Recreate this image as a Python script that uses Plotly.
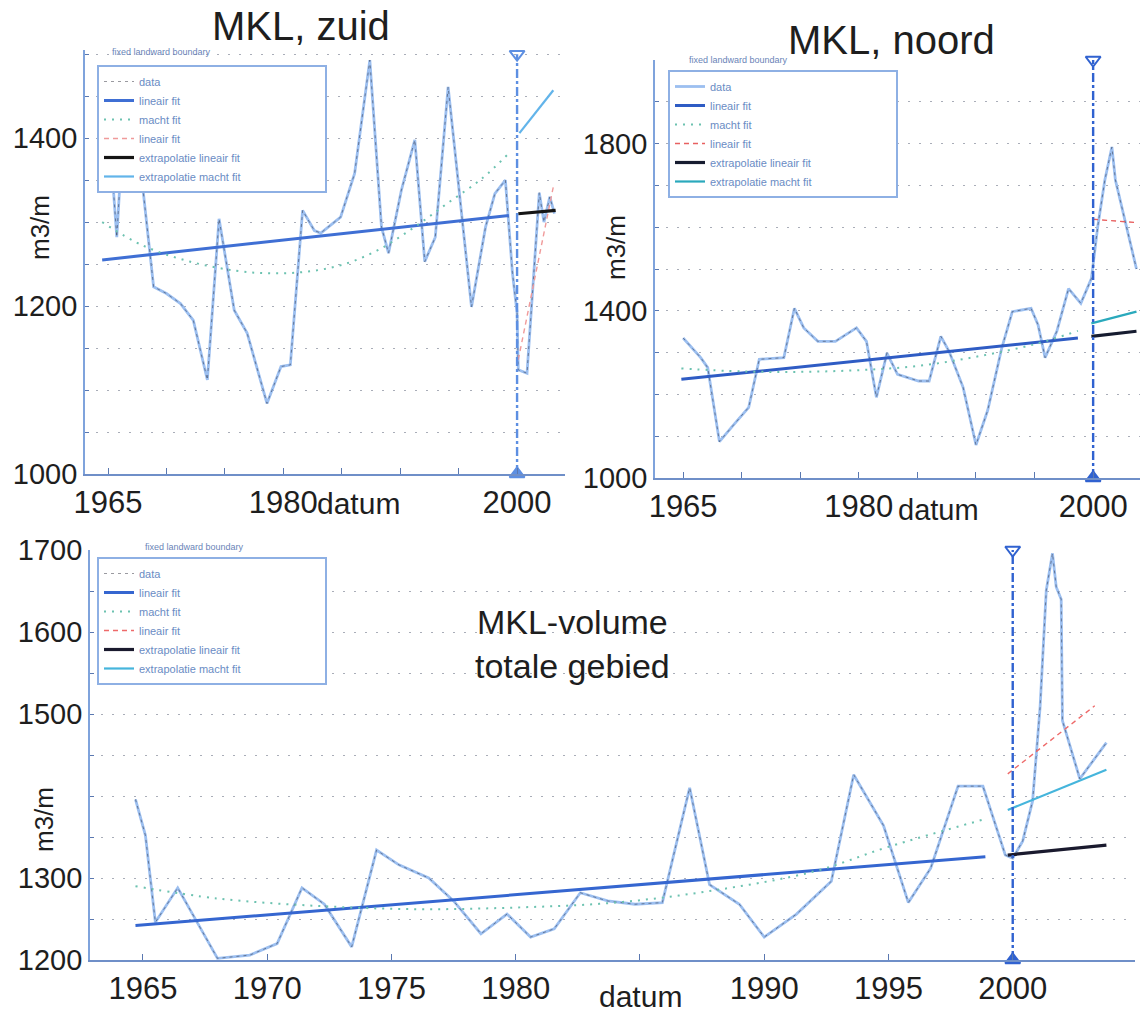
import plotly.graph_objects as go

W, H = 1140, 1014
BOUNDARY_YEAR = 2000

LEGEND_NAMES = ["data", "lineair fit", "macht fit", "lineair fit",
                "extrapolatie lineair fit", "extrapolatie macht fit"]
# keeps the legend box as wide as the drawn frame
LEGEND_PAD = "\u00a0" * 26

# ---------------- MKL, zuid ----------------
zuid_year = [1964.8, 1965.3, 1965.75, 1966.1, 1966.6, 1967.5, 1967.75, 1968.9, 1970.0,
             1971.2, 1972.3, 1973.5, 1974.5, 1975.8, 1976.9, 1978.6, 1979.8, 1980.6,
             1981.65, 1982.65, 1983.2, 1984.9, 1986.1, 1987.4, 1988.4, 1989.0, 1990.1,
             1991.25, 1992.1, 1993.0, 1994.1, 1995.0, 1996.1, 1997.3, 1998.1, 1999.0,
             1999.6, 2000.0, 2000.1, 2000.85, 2001.4, 2001.9, 2002.3, 2002.8, 2003.2]
zuid_val = [1395, 1370, 1282, 1366, 1410, 1400, 1370, 1223, 1215,
            1203, 1183, 1112, 1304, 1195, 1168, 1084, 1128, 1130,
            1314, 1290, 1287, 1306, 1358, 1493, 1294, 1263, 1338,
            1398, 1253, 1282, 1461, 1346, 1199, 1294, 1334, 1350,
            1240, 1192, 1124, 1120, 1231, 1335, 1300, 1330, 1310]
zuid_lin_year = [1964.5, 1999.3]
zuid_lin_val = [1255, 1308]
zuid_macht_year = [1964.5, 1968, 1972, 1976, 1979, 1982, 1985, 1988, 1991, 1994, 1997, 1999.3]
zuid_macht_val = [1300, 1272, 1253, 1242, 1239, 1241, 1249, 1266, 1292, 1322, 1352, 1382]
zuid_post_year = [2000.1, 2003.1]
zuid_post_val = [1136, 1342]
zuid_ext_lin_year = [2000.1, 2003.3]
zuid_ext_lin_val = [1310, 1314]
zuid_ext_macht_year = [2000.2, 2003.1]
zuid_ext_macht_val = [1406, 1457]
zuid_yticks = [1000, 1200, 1400]
zuid_xticks = [1965, 1980, 2000]

# ---------------- MKL, noord ----------------
noord_year = [1965.0, 1966.5, 1967.1, 1968.1, 1969.4, 1970.6, 1971.5, 1973.6, 1974.5,
              1975.3, 1976.5, 1978.0, 1979.8, 1980.65, 1981.5, 1982.4, 1983.3, 1985.1,
              1986.0, 1987.0, 1987.7, 1988.9, 1990.0, 1991.0, 1992.2, 1993.1, 1994.7,
              1995.3, 1995.9, 1996.9, 1997.9, 1998.95, 1999.85, 2000.4, 2001.0, 2001.6,
              2001.9, 2002.8, 2003.7]
noord_val = [1335, 1288, 1264, 1087, 1130, 1169, 1284, 1288, 1406,
             1359, 1327, 1327, 1359, 1327, 1193, 1299, 1248, 1232,
             1232, 1339, 1303, 1217, 1079, 1162, 1311, 1398, 1406,
             1366, 1288, 1351, 1453, 1418, 1477, 1603, 1713, 1792,
             1713, 1603, 1500]
noord_lin_year = [1964.85, 1998.7]
noord_lin_val = [1236, 1335]
noord_macht_year = [1964.85, 1970, 1975, 1980, 1985, 1990, 1995, 1998.7]
noord_macht_val = [1262, 1255, 1254, 1258, 1268, 1290, 1320, 1352]
noord_post_year = [2000.0, 2003.7]
noord_post_val = [1619, 1611]
noord_ext_lin_year = [1999.85, 2003.7]
noord_ext_lin_val = [1339, 1351]
noord_ext_macht_year = [1999.85, 2003.7]
noord_ext_macht_val = [1370, 1398]
noord_yticks = [1000, 1400, 1800]
noord_xticks = [1965, 1980, 2000]

# ---------------- MKL-volume totale gebied ----------------
tot_year = [1964.7, 1965.1, 1965.5, 1966.4, 1968.0, 1969.3, 1970.4, 1971.4, 1972.3,
            1973.4, 1974.4, 1975.3, 1976.5, 1977.5, 1978.6, 1979.65, 1980.6, 1981.55,
            1982.6, 1983.7, 1984.8, 1985.9, 1987.0, 1987.8, 1989.0, 1990.0, 1991.3,
            1992.7, 1993.6, 1994.8, 1995.8, 1996.7, 1997.8, 1998.8, 1999.7, 2000.0,
            2000.4, 2000.8, 2001.1, 2001.35, 2001.6, 2001.75, 2001.95, 2002.0, 2002.7,
            2003.77]
tot_val = [1396, 1352, 1246, 1288, 1202, 1206, 1220, 1288, 1268,
           1216, 1334, 1316, 1300, 1272, 1232, 1256, 1228, 1238,
           1282, 1272, 1268, 1270, 1410, 1292, 1268, 1228, 1256,
           1296, 1426, 1364, 1270, 1312, 1412, 1412, 1328, 1324,
           1345, 1394, 1508, 1651, 1696, 1655, 1640, 1492, 1421,
           1465]
tot_lin_year = [1964.7, 1998.9]
tot_lin_val = [1242, 1326]
tot_macht_year = [1964.7, 1968, 1972, 1976, 1980, 1984, 1988, 1992, 1995, 1998.9]
tot_macht_val = [1290, 1275, 1266, 1262, 1264, 1270, 1285, 1308, 1338, 1372]
tot_post_year = [1999.8, 2003.3]
tot_post_val = [1427, 1510]
tot_ext_lin_year = [1999.8, 2003.77]
tot_ext_lin_val = [1328, 1340]
tot_ext_macht_year = [1999.8, 2003.77]
tot_ext_macht_val = [1383, 1432]
tot_yticks = [1200, 1300, 1500, 1600, 1700]
tot_xticks = [1965, 1970, 1975, 1980, 1990, 1995, 2000]

FONT = "Liberation Sans, Arial, sans-serif"
NARROW = "Liberation Sans Narrow, Arial Narrow, Liberation Sans, sans-serif"


def px(x):
    return x / W


def py(y):
    return 1 - y / H


fig = go.Figure()


def add_panel(n, legend, year, val, lin, macht, post, ext_lin, ext_macht,
              yrange, styles, data_legend_dark):
    xa = "x" if n == 1 else f"x{n}"
    ya = "y" if n == 1 else f"y{n}"
    common = dict(xaxis=xa, yaxis=ya, legend=legend, mode="lines")
    names = LEGEND_NAMES[:-1] + [LEGEND_NAMES[-1] + LEGEND_PAD]
    # measured volumes: light blue line with a thin dark trace on top
    fig.add_trace(go.Scatter(x=year, y=val, name=names[0],
                             line=dict(color="#9cbff0", width=2.8),
                             showlegend=not data_legend_dark, **common))
    fig.add_trace(go.Scatter(x=year, y=val, name=names[0],
                             line=dict(color="rgba(30,30,45,0.45)", width=1, dash="3px,4px"),
                             showlegend=data_legend_dark, **common))
    fig.add_trace(go.Scatter(x=lin[0], y=lin[1], name=names[1],
                             line=dict(color=styles["lin"], width=3), **common))
    fig.add_trace(go.Scatter(x=macht[0], y=macht[1], name=names[2], line_shape="spline",
                             line=dict(color="#6cc2b0", width=2, dash="2px,6px"), **common))
    fig.add_trace(go.Scatter(x=post[0], y=post[1], name=names[3],
                             line=dict(color=styles["post"], width=1.4, dash="5px,4px"), **common))
    fig.add_trace(go.Scatter(x=ext_lin[0], y=ext_lin[1], name=names[4],
                             line=dict(color=styles["ext_lin"], width=3.2), **common))
    fig.add_trace(go.Scatter(x=ext_macht[0], y=ext_macht[1], name=names[5],
                             line=dict(color=styles["ext_macht"], width=2.2), **common))
    # fixed landward boundary
    fig.add_trace(go.Scatter(x=[BOUNDARY_YEAR, BOUNDARY_YEAR], y=[yrange[0], yrange[1]],
                             xaxis=xa, yaxis=ya, mode="lines+markers", showlegend=False,
                             cliponaxis=False,
                             line=dict(color=styles["bound"], width=2.4, dash="dashdot"),
                             marker=dict(symbol=["triangle-up", "triangle-down-open"], size=13,
                                         color=styles["bound"], line=dict(width=2, color=styles["bound"]))))


add_panel(1, "legend", zuid_year, zuid_val,
          (zuid_lin_year, zuid_lin_val), (zuid_macht_year, zuid_macht_val),
          (zuid_post_year, zuid_post_val), (zuid_ext_lin_year, zuid_ext_lin_val),
          (zuid_ext_macht_year, zuid_ext_macht_val), (1000, 1500),
          dict(lin="#3f6fd4", post="#f09a9a", ext_lin="#151515", ext_macht="#62b4ea",
               bound="#5d8fe2"), True)
add_panel(2, "legend2", noord_year, noord_val,
          (noord_lin_year, noord_lin_val), (noord_macht_year, noord_macht_val),
          (noord_post_year, noord_post_val), (noord_ext_lin_year, noord_ext_lin_val),
          (noord_ext_macht_year, noord_ext_macht_val), (1000, 2000),
          dict(lin="#2f5cc4", post="#e86060", ext_lin="#161c30", ext_macht="#2aa9bc",
               bound="#3062d0"), False)
add_panel(3, "legend3", tot_year, tot_val,
          (tot_lin_year, tot_lin_val), (tot_macht_year, tot_macht_val),
          (tot_post_year, tot_post_val), (tot_ext_lin_year, tot_ext_lin_val),
          (tot_ext_macht_year, tot_ext_macht_val), (1200, 1700),
          dict(lin="#3566d0", post="#ee6a6a", ext_lin="#1a1a2e", ext_macht="#45b5dc",
               bound="#3062d0"), True)


def xaxis_cfg(x0, x1, rng, labels, anchor):
    vals = list(range(1965, 2005, 5))
    return dict(domain=[px(x0), px(x1)], range=rng, tickvals=vals, anchor=anchor,
                ticktext=[str(v) if v in labels else "" for v in vals],
                ticks="inside", ticklen=6, tickcolor="#5a78b0", showgrid=False,
                showline=True, linecolor="#6f8fc8", linewidth=1.6, zeroline=False,
                automargin=False,
                tickfont=dict(family=NARROW, size=31, color="#1e1e1e"))


def yaxis_cfg(y0, y1, rng, step, labels, anchor):
    vals = list(range(rng[0], rng[1] + 1, step))
    return dict(domain=[py(y1), py(y0)], range=rng, tickvals=vals,
                ticktext=[str(v) if v in labels else "" for v in vals],
                ticks="inside", ticklen=4, tickcolor="#5a78b0",
                showgrid=True, gridcolor="#a9adb8", griddash="2px,9px", gridwidth=1.4,
                showline=True, linecolor="#7fa3dc", linewidth=1.8, zeroline=False,
                automargin=False, anchor=anchor,
                tickfont=dict(family=NARROW, size=29, color="#1e1e1e"))


layout = dict(
    width=W, height=H, margin=dict(l=0, r=0, t=0, b=0, autoexpand=False),
    paper_bgcolor="white", plot_bgcolor="white",
    xaxis=xaxis_cfg(85, 565, [1963.03, 2004.1], zuid_xticks, "y"),
    yaxis=yaxis_cfg(50, 474, [1000, 1505], 50, zuid_yticks, "x"),
    xaxis2=xaxis_cfg(655, 1140, [1962.6, 2004.0], noord_xticks, "y2"),
    yaxis2=yaxis_cfg(60, 478, [1000, 2000], 100, noord_yticks, "x2"),
    xaxis3=xaxis_cfg(90, 1135, [1962.87, 2004.92], tot_xticks, "y3"),
    yaxis3=yaxis_cfg(550, 960, [1200, 1700], 50, tot_yticks, "x3"),
)
layout["yaxis"]["range"] = [1000, 1505]

legend_style = dict(bgcolor="white", bordercolor="#8eb0e4", borderwidth=2,
                    font=dict(family=FONT, size=11, color="#6a8cc4"),
                    xanchor="left", yanchor="top", itemwidth=30, tracegroupgap=0)
layout["legend"] = dict(x=px(97), y=py(65), **legend_style)
layout["legend2"] = dict(x=px(668), y=py(70), **legend_style)
layout["legend3"] = dict(x=px(97), y=py(557), **legend_style)

annotations = []


def text(x, y, s, size, color="#1e1e1e", angle=0, xanchor="center", family=FONT):
    annotations.append(dict(x=px(x), y=py(y), xref="paper", yref="paper", text=s,
                            showarrow=False, textangle=angle, xanchor=xanchor, yanchor="middle",
                            font=dict(family=family, size=size, color=color)))


text(301, 26, "MKL, zuid", 40)
text(891, 40, "MKL, noord", 40)
text(572, 644, "MKL-volume<br>totale gebied", 34, family=NARROW)
text(40, 228, "m3/m", 26, angle=-90)
text(616, 248, "m3/m", 26, angle=-90)
text(44, 820, "m3/m", 26, angle=-90)
text(358, 503, "datum", 30, family=NARROW)
text(938, 510, "datum", 29, family=NARROW)
text(640, 996, "datum", 30, family=NARROW)
text(110, 52, "fixed landward boundary", 9, color="#6a84b8", xanchor="left")
text(687, 60, "fixed landward boundary", 9, color="#6a84b8", xanchor="left")
text(143, 547, "fixed landward boundary", 9, color="#6a84b8", xanchor="left")
layout["annotations"] = annotations

fig.update_layout(**layout)
fig.write_html("out.html")
